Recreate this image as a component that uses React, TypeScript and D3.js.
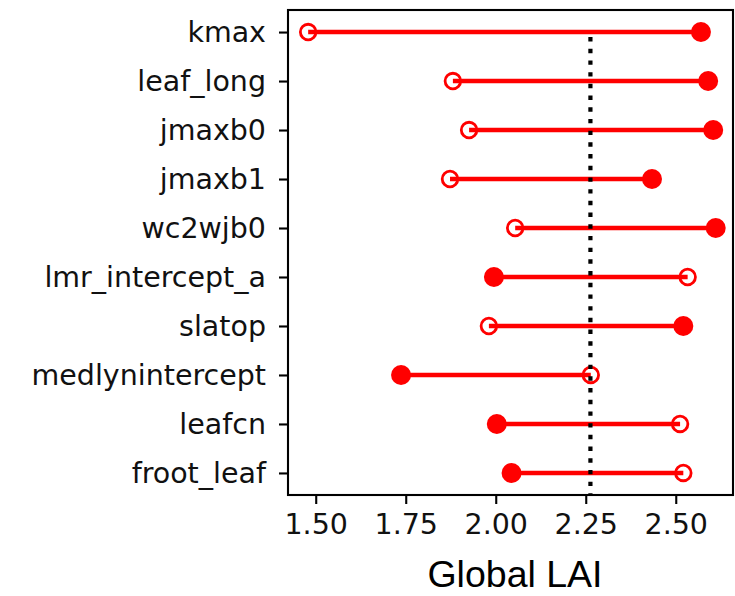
import React, { useRef, useEffect } from "react";
import * as d3 from "d3";

// parameters, top to bottom
const categories = [
  "kmax",
  "leaf_long",
  "jmaxb0",
  "jmaxb1",
  "wc2wjb0",
  "lmr_intercept_a",
  "slatop",
  "medlynintercept",
  "leafcn",
  "froot_leaf",
];

// LAI at the hollow end and at the filled end of each bar
const hollowValues = [1.479, 1.881, 1.926, 1.873, 2.054, 2.533, 1.981, 2.264, 2.512, 2.521];
const filledValues = [2.57, 2.59, 2.604, 2.434, 2.611, 1.995, 2.521, 1.737, 2.003, 2.044];

const defaultLAI = 2.263;
const xTicks = [1.5, 1.75, 2.0, 2.25, 2.5];
const xLabel = "Global LAI";

const App = () => {
  const svgRef = useRef(null);

  var width = 735;
  var height = 596;
  var margin = { top: 10, right: 2, bottom: 101, left: 288 };

  useEffect(() => {
    var svg = d3.select(svgRef.current);
    svg.selectAll("*").remove();

    var x = d3
      .scaleLinear()
      .domain([1.423, 2.659])
      .range([margin.left, width - margin.right]);

    var y = d3
      .scalePoint()
      .domain(categories)
      .range([margin.top, height - margin.bottom])
      .padding(0.45);

    var rows = categories.map((c, i) => ({
      name: c,
      hollow: hollowValues[i],
      filled: filledValues[i],
    }));

    // red bars between the two ends
    svg
      .selectAll(".bar")
      .data(rows)
      .enter()
      .append("line")
      .attr("class", "bar")
      .attr("x1", (d) => x(d.hollow))
      .attr("x2", (d) => x(d.filled))
      .attr("y1", (d) => y(d.name))
      .attr("y2", (d) => y(d.name))
      .style("stroke", "#ff0000")
      .style("stroke-width", 4.6);

    svg
      .selectAll(".hollow")
      .data(rows)
      .enter()
      .append("circle")
      .attr("class", "hollow")
      .attr("cx", (d) => x(d.hollow))
      .attr("cy", (d) => y(d.name))
      .attr("r", 7.8)
      .style("fill", "none")
      .style("stroke", "#ff0000")
      .style("stroke-width", 2.8);

    svg
      .selectAll(".filled")
      .data(rows)
      .enter()
      .append("circle")
      .attr("class", "filled")
      .attr("cx", (d) => x(d.filled))
      .attr("cy", (d) => y(d.name))
      .attr("r", 10)
      .style("fill", "#ff0000");

    // dotted reference line
    svg
      .append("line")
      .attr("x1", x(defaultLAI))
      .attr("x2", x(defaultLAI))
      .attr("y1", y(categories[0]) + 5)
      .attr("y2", height - margin.bottom)
      .style("stroke", "black")
      .style("stroke-width", 4.2)
      .style("stroke-dasharray", "4.4 7.3");

    // frame
    svg
      .append("rect")
      .attr("x", margin.left)
      .attr("y", margin.top)
      .attr("width", width - margin.left - margin.right)
      .attr("height", height - margin.top - margin.bottom)
      .style("fill", "none")
      .style("stroke", "black")
      .style("stroke-width", 2.1);

    var yAxis = svg
      .append("g")
      .attr("transform", "translate(" + margin.left + ",0)")
      .call(d3.axisLeft(y).tickSize(9).tickPadding(13));
    yAxis.select(".domain").remove();
    yAxis.selectAll("line").style("stroke", "black").style("stroke-width", 2.1);
    yAxis
      .selectAll("text")
      .style("font-family", "DejaVu Sans")
      .style("font-size", "28.5px")
      .style("fill", "#111");

    var xAxis = svg
      .append("g")
      .attr("transform", "translate(0," + (height - margin.bottom) + ")")
      .call(
        d3
          .axisBottom(x)
          .tickValues(xTicks)
          .tickFormat(d3.format(".2f"))
          .tickSize(9)
          .tickPadding(10)
      );
    xAxis.select(".domain").remove();
    xAxis.selectAll("line").style("stroke", "black").style("stroke-width", 2.1);
    xAxis
      .selectAll("text")
      .style("font-family", "DejaVu Sans")
      .style("font-size", "28.5px")
      .style("fill", "#111");

    svg
      .append("text")
      .attr("x", 515)
      .attr("y", 587)
      .attr("text-anchor", "middle")
      .style("font-family", "Liberation Sans, Arial, sans-serif")
      .style("font-size", "37.5px")
      .style("fill", "black")
      .text(xLabel);
  }, []);

  return (
    <svg
      ref={svgRef}
      width={width}
      height={height}
      style={{ position: "absolute", left: 0, top: 0, background: "white" }}
    ></svg>
  );
};

export default App;
